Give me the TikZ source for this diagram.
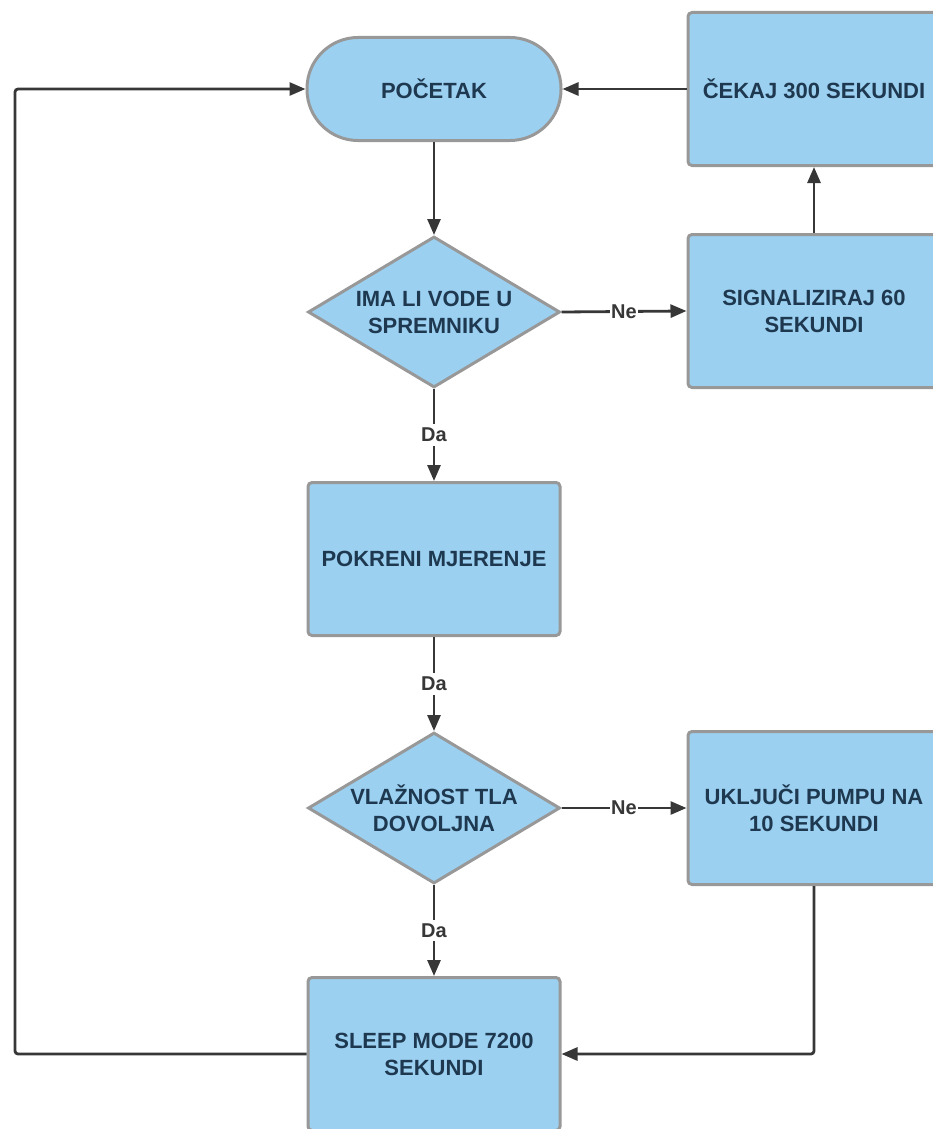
\documentclass[tikz,border=0pt]{standalone}
\usepackage{fontspec}
\setmainfont{Liberation Sans}
\usetikzlibrary{shapes.geometric,arrows.meta}
\definecolor{boxfill}{RGB}{156,208,241}
\definecolor{boxline}{RGB}{152,152,152}
\definecolor{boxtext}{RGB}{30,56,80}
\definecolor{conn}{RGB}{55,55,55}
\tikzset{
  basebox/.style={fill=boxfill,draw=boxline,line width=3pt,text=boxtext,
    font=\fontsize{22}{27}\selectfont\bfseries,align=center,inner sep=0pt},
  procbox/.style={basebox,rectangle,rounded corners=4pt,minimum width=252pt,minimum height=153pt},
  termbox/.style={basebox,rectangle,rounded corners=51pt,minimum width=254pt,minimum height=103pt},
  decbox/.style={basebox,diamond,aspect=1.68,minimum width=252pt,minimum height=151pt},
  conline/.style={draw=conn,line width=2.8pt,-{Triangle[length=16pt,width=13pt]}},
  lbl/.style={fill=white,text=conn,font=\fontsize{20}{22}\selectfont\bfseries,inner xsep=1pt,inner ysep=4pt}
}
\begin{document}
\begin{tikzpicture}[x=1pt,y=-1pt]
\useasboundingbox (0,0) rectangle (933,1129);
\clip (0,0) rectangle (933,1129);
\node[termbox] (start) at (434,89) {POČETAK};
\node[procbox] (cekaj) at (814,89) {ČEKAJ 300 SEKUNDI};
\node[decbox] (d1) at (434,312) {IMA LI VODE U\\SPREMNIKU};
\node[procbox] (signal) at (814,311) {SIGNALIZIRAJ 60\\SEKUNDI};
\node[procbox] (pokreni) at (434,559) {POKRENI MJERENJE};
\node[decbox] (d2) at (434,808) {VLAŽNOST TLA\\DOVOLJNA};
\node[procbox] (pumpa) at (814,808) {UKLJUČI PUMPU NA\\10 SEKUNDI};
\node[procbox] (sleep) at (434,1054) {SLEEP MODE 7200\\SEKUNDI};
\coordinate (loopB) at (15,1054);
\coordinate (loopT) at (15,89);

\draw[conline] (cekaj.west) -- (start.east);
\draw[conline] (start.south) -- (d1.north);
\draw[conline] (d1.east) -- node[lbl] (ne1) {Ne} (signal.west);
\draw[conline] (signal.north) -- (cekaj.south);
\draw[conline] (d1.south) -- node[lbl] (da1) {Da} (pokreni.north);
\draw[conline] (pokreni.south) -- node[lbl] (da2) {Da} (d2.north);
\draw[conline] (d2.east) -- node[lbl] (ne2) {Ne} (pumpa.west);
\draw[conline] (d2.south) -- node[lbl] (da3) {Da} (sleep.north);
\draw[conline,rounded corners=3pt] (pumpa.south) |- (sleep.east);
\draw[conline,rounded corners=3pt] (sleep.west) -- (loopB) -- (loopT) -- (start.west);
\end{tikzpicture}
\end{document}
